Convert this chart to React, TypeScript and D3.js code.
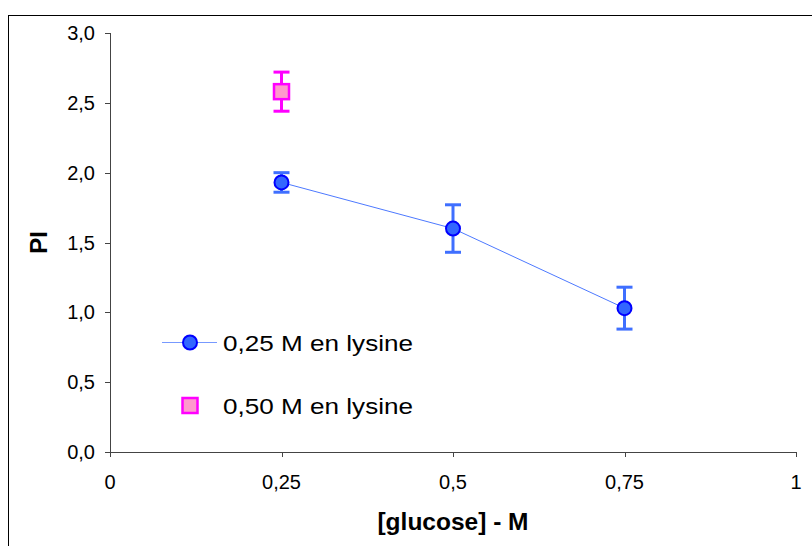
import React from "react";
import * as d3 from "d3";

const xTicks = [0, 0.25, 0.5, 0.75, 1];
const xTickLabels = ["0", "0,25", "0,5", "0,75", "1"];
const yTicks = [0, 0.5, 1, 1.5, 2, 2.5, 3];
const yTickLabels = ["0,0", "0,5", "1,0", "1,5", "2,0", "2,5", "3,0"];

const s1x = [0.25, 0.5, 0.75];
const s1y = [1.93, 1.6, 1.03];
const s1lo = [1.86, 1.43, 0.88];
const s1hi = [2.0, 1.77, 1.18];

const s2x = [0.25];
const s2y = [2.58];
const s2lo = [2.44];
const s2hi = [2.72];

const seriesNames = ["0,25 M en lysine", "0,50 M en lysine"];

export default function App() {
  const W = 812, H = 546;
  const x = d3.scaleLinear().domain([0, 1]).range([110, 796]);
  const y = d3.scaleLinear().domain([0, 3]).range([452, 33]);
  const line = d3.line<number>().x((_, i) => x(s1x[i])).y((d) => y(d));
  const font = "'Liberation Sans', Arial, sans-serif";
  const cap = 8;
  return (
    <div style={{ position: "absolute", left: 0, top: 0 }}>
      <svg width={W} height={H} style={{ display: "block", fontFamily: font }}>
        <rect x={0} y={0} width={W} height={H} fill="#fff" />
        <rect x={8.5} y={15.5} width={W + 10} height={H + 10} fill="none" stroke="#000" strokeWidth={1} />
        {/* axes */}
        <line x1={110.5} x2={110.5} y1={y(3)} y2={y(0)} stroke="#444" />
        <line x1={x(0)} x2={x(1)} y1={452.5} y2={452.5} stroke="#444" />
        {yTicks.map((t, i) => (
          <g key={"y" + i}>
            <line x1={105} x2={110} y1={Math.round(y(t)) + 0.5} y2={Math.round(y(t)) + 0.5} stroke="#444" />
            <text x={95} y={y(t) + 7} textAnchor="end" fontSize={20} fill="#000">{yTickLabels[i]}</text>
          </g>
        ))}
        {xTicks.map((t, i) => (
          <g key={"x" + i}>
            <line x1={Math.round(x(t)) + 0.5} x2={Math.round(x(t)) + 0.5} y1={452} y2={457} stroke="#444" />
            <text x={x(t)} y={489} textAnchor="middle" fontSize={20} fill="#000">{xTickLabels[i]}</text>
          </g>
        ))}
        <text x={453} y={530} textAnchor="middle" fontSize={24.5} fontWeight="bold">[glucose] - M</text>
        <text transform={`translate(47,${y(1.5)}) rotate(-90)`} textAnchor="middle" fontSize={24} fontWeight="bold">PI</text>
        {/* series 1 */}
        <path d={line(s1y) || ""} fill="none" stroke="#4D79FF" strokeWidth={1} />
        {s1x.map((v, i) => (
          <g key={"e1" + i} stroke="#3F6FFF" strokeWidth={3}>
            <line x1={x(v)} x2={x(v)} y1={y(s1lo[i])} y2={y(s1hi[i])} />
            <line x1={x(v) - cap} x2={x(v) + cap} y1={y(s1lo[i])} y2={y(s1lo[i])} />
            <line x1={x(v) - cap} x2={x(v) + cap} y1={y(s1hi[i])} y2={y(s1hi[i])} />
          </g>
        ))}
        {s1x.map((v, i) => (
          <circle key={"c" + i} cx={x(v)} cy={y(s1y[i])} r={7} fill="#3366FF" stroke="#0000FF" strokeWidth={2} />
        ))}
        {/* series 2 */}
        {s2x.map((v, i) => (
          <g key={"e2" + i} stroke="#FF00FF" strokeWidth={3}>
            <line x1={x(v)} x2={x(v)} y1={y(s2lo[i])} y2={y(s2hi[i])} />
            <line x1={x(v) - cap} x2={x(v) + cap} y1={y(s2lo[i])} y2={y(s2lo[i])} />
            <line x1={x(v) - cap} x2={x(v) + cap} y1={y(s2hi[i])} y2={y(s2hi[i])} />
          </g>
        ))}
        {s2x.map((v, i) => (
          <rect key={"s" + i} x={x(v) - 7.5} y={y(s2y[i]) - 7.5} width={15} height={15} fill="#FF99CC" stroke="#FF00FF" strokeWidth={2.5} />
        ))}
        {/* legend */}
        <line x1={162} x2={217} y1={342.5} y2={342.5} stroke="#7799FF" strokeWidth={1} />
        <circle cx={190} cy={342.5} r={7} fill="#3366FF" stroke="#0000FF" strokeWidth={2} />
        <text x={223} y={351} fontSize={22} fill="#000" textLength={190} lengthAdjust="spacingAndGlyphs">{seriesNames[0]}</text>
        <rect x={182.5} y={398} width={15} height={15} fill="#FF99CC" stroke="#FF00FF" strokeWidth={2.5} />
        <text x={223} y={414} fontSize={22} fill="#000" textLength={190} lengthAdjust="spacingAndGlyphs">{seriesNames[1]}</text>
      </svg>
    </div>
  );
}
